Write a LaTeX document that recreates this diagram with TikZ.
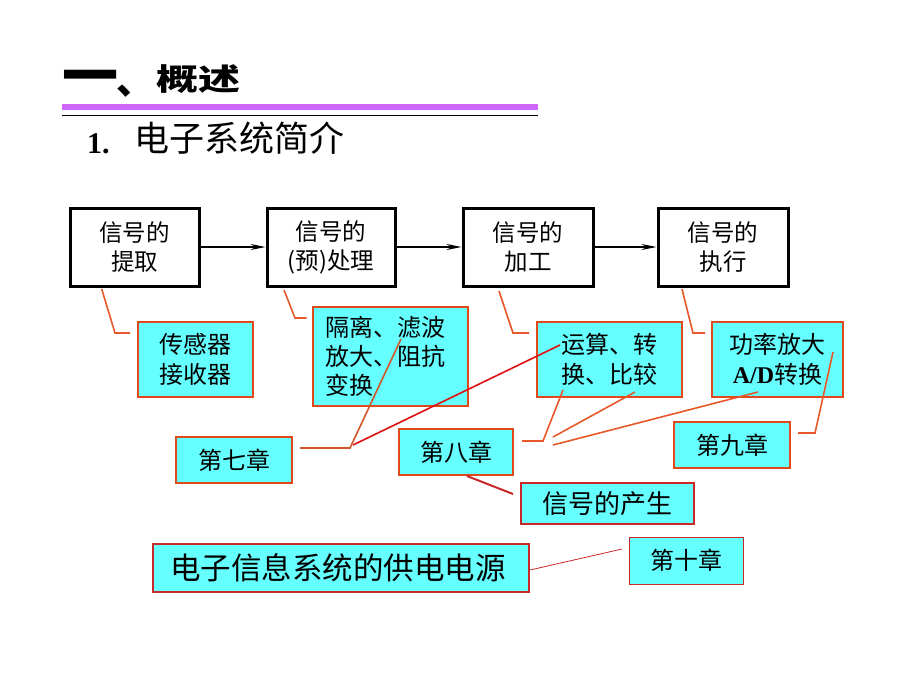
\documentclass[tikz,border=0pt]{standalone}
\usepackage{fontspec}
\usepackage{graphicx}
\setmainfont{Liberation Serif}
\newfontfamily\cjk{Noto Sans CJK SC}
\usetikzlibrary{arrows.meta}
\definecolor{cyanfill}{HTML}{66FFFF}
\definecolor{boxline}{HTML}{E04A1A}
\definecolor{leadcol}{HTML}{E8582A}
\definecolor{redcol}{HTML}{E01010}
\definecolor{browncol}{HTML}{D0582A}
\definecolor{darkredcol}{HTML}{C82828}
\definecolor{barpurple}{HTML}{CC66FF}
\begin{document}
\begin{tikzpicture}[x=1pt,y=-1pt,
  blockbox/.style={draw=black,line width=3pt,fill=white,minimum width=#1,minimum height=78pt,inner sep=0pt,align=center,font=\cjk\fontsize{23.5}{29}\selectfont},
  cbox/.style n args={2}{draw=boxline,line width=2pt,fill=cyanfill,minimum width=#1,minimum height=#2,inner sep=0pt,align=center,font=\cjk\fontsize{24}{30}\selectfont},
  leader/.style={draw=leadcol,line width=1.6pt},
  flow/.style={draw=black,line width=1.5pt,-{Stealth[length=15pt,width=6pt]}}
]
\fill[white] (0,0) rectangle (920,690);
\useasboundingbox (0,0) rectangle (920,690);

% title
\node[anchor=base west,inner sep=0pt] (t1) at (62,97) {\cjk\bfseries\fontsize{56}{56}\selectfont 一};
\node[anchor=base west,inner sep=0pt] (t1b) at (116,95) {\cjk\bfseries\fontsize{38}{38}\selectfont 、};
\node[anchor=base west,inner sep=0pt] (t2) at (156,91) {\scalebox{1}[0.72]{\cjk\bfseries\fontsize{42}{42}\selectfont 概述}};
\fill[barpurple] (62,104) rectangle (538,110);
\draw[black,line width=1pt] (62,115.5) -- (538,115.5);
\node[anchor=base west,inner sep=0pt] (t3) at (87,153) {\bfseries\fontsize{30}{30}\selectfont 1.};
\node[anchor=base west,inner sep=0pt] (t4) at (134,151) {\cjk\fontsize{35}{35}\selectfont 电子系统简介};

% blocks
\node[blockbox=129] (B1) at (134.5,247) {信号的\\提取};
\node[blockbox=128] (B2) at (331,247) {信号的\\(预)处理};
\node[blockbox=130] (B3) at (528,247) {信号的\\加工};
\node[blockbox=130] (B4) at (723,247) {信号的\\执行};
\draw[flow] (B1.east) -- (B2.west);
\draw[flow] (B2.east) -- (B3.west);
\draw[flow] (B3.east) -- (B4.west);

% cyan boxes
\node[cbox={115}{75}] (C1) at (195.5,359.5) {传感器\\接收器};
\node[cbox={155}{99},align=left,text width=131pt,inner xsep=12pt,font=\cjk\fontsize{24}{29}\selectfont] (C2) at (390.5,356.5) {隔离、滤波\\放大、阻抗\\变换};
\node[cbox={145}{75}] (C3) at (609.5,359.5) {运算、转\\换、比较};
\node[cbox={131}{75}] (C4) at (777.5,359.5) {功率放大\\{\rmfamily\bfseries A/D}转换};
\node[cbox={116}{46}] (K9) at (732,445) {第九章};
\node[cbox={116}{46}] (K7) at (234,460) {第七章};
\node[cbox={114}{46}] (K8) at (456,452) {第八章};
\node[cbox={173}{41},draw=darkredcol,font=\cjk\fontsize{26}{30}\selectfont] (Gen) at (607.5,503.5) {信号的产生};
\node[cbox={376}{48},draw=darkredcol,font=\cjk\fontsize{30.5}{34}\selectfont] (Pwr) at (341,568) {\hspace*{-6pt}电子信息系统的供电电源};
\node[cbox={114}{47},draw=darkredcol,line width=1pt] (K10) at (686,560.5) {第十章};

% leader coordinates
\coordinate (a1) at (101.7,289); \coordinate (a2) at (115,333); \coordinate (a3) at (130,333);
\coordinate (b1) at (284,290); \coordinate (b2) at (295,318); \coordinate (b3) at (306.7,318);
\coordinate (c1) at (499,291); \coordinate (c2) at (513,333); \coordinate (c3) at (529,333);
\coordinate (d1) at (682,289); \coordinate (d2) at (693,333); \coordinate (d3) at (705,333);
\coordinate (e1) at (300,448); \coordinate (e2) at (350,448); \coordinate (e3) at (401,339);
\coordinate (f1) at (353,445); \coordinate (f2) at (560,345);
\coordinate (g1) at (522,441); \coordinate (g2) at (543,441); \coordinate (g3) at (563,390);
\coordinate (h1) at (553,437); \coordinate (h2) at (635,392);
\coordinate (i1) at (553,445); \coordinate (i2) at (758,392);
\coordinate (j1) at (467,476); \coordinate (j2) at (513,494);
\coordinate (k1) at (798,433); \coordinate (k2) at (815,433); \coordinate (k3) at (833,352);
\coordinate (m1) at (530,570); \coordinate (m2) at (622,549);

\draw[leader] (a1) -- (a2) -- (a3);
\draw[leader] (b1) -- (b2) -- (b3);
\draw[leader] (c1) -- (c2) -- (c3);
\draw[leader] (d1) -- (d2) -- (d3);
\draw[leader,draw=browncol] (e1) -- (e2) -- (e3);
\draw[leader,draw=redcol] (f1) -- (f2);
\draw[leader] (g1) -- (g2) -- (g3);
\draw[leader] (h1) -- (h2);
\draw[leader] (i1) -- (i2);
\draw[leader,draw=darkredcol,line width=2pt] (j1) -- (j2);
\draw[leader] (k1) -- (k2) -- (k3);
\draw[draw=darkredcol,line width=0.8pt] (m1) -- (m2);
\end{tikzpicture}
\end{document}
